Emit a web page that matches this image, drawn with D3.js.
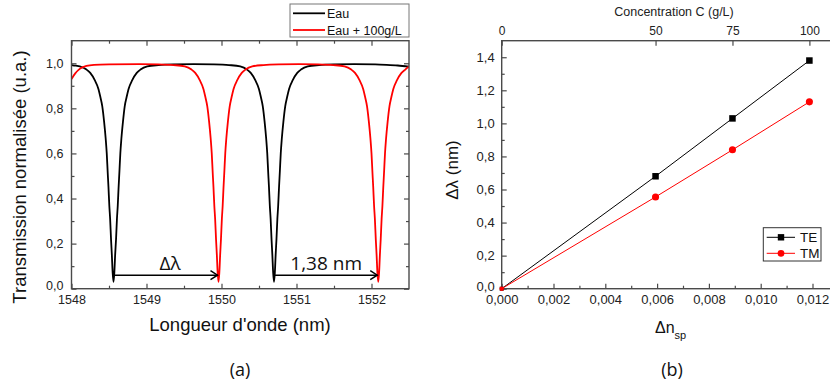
<!DOCTYPE html>
<html><head><meta charset="utf-8">
<script src="https://cdn.jsdelivr.net/npm/d3@7"></script>
<style>html,body{margin:0;padding:0;background:#fff}svg{display:block}</style>
</head><body><svg id="c" width="830" height="388"></svg>
<script>
// ---------- DATA ----------
// Panel (a): transmission spectra [wavelength nm, transmission]
const eau = [
[1548.00,0.992],[1548.06,0.989],[1548.11,0.986],[1548.20,0.972],[1548.25,0.957],[1548.31,0.925],
[1548.36,0.885],[1548.385,0.85],[1548.41,0.81],[1548.435,0.74],[1548.456,0.665],[1548.47,0.60],
[1548.482,0.52],[1548.493,0.45],[1548.504,0.37],[1548.515,0.31],[1548.527,0.22],[1548.538,0.15],
[1548.549,0.07],[1548.56,0.03],[1548.571,0.07],[1548.582,0.15],[1548.594,0.22],[1548.606,0.31],
[1548.617,0.37],[1548.628,0.45],[1548.639,0.52],[1548.651,0.60],[1548.665,0.665],[1548.686,0.74],
[1548.71,0.81],[1548.735,0.85],[1548.76,0.885],[1548.81,0.925],[1548.87,0.957],[1548.92,0.972],
[1549.01,0.986],[1549.16,0.992],[1549.36,0.995],[1549.63,0.996],[1549.90,0.995],[1550.10,0.992],
[1550.25,0.986],[1550.34,0.972],[1550.39,0.957],[1550.45,0.925],[1550.50,0.885],[1550.525,0.85],
[1550.55,0.81],[1550.575,0.74],[1550.596,0.665],[1550.61,0.60],[1550.622,0.52],[1550.633,0.45],
[1550.644,0.37],[1550.655,0.31],[1550.667,0.22],[1550.678,0.15],[1550.689,0.07],[1550.70,0.03],
[1550.711,0.07],[1550.722,0.15],[1550.733,0.22],[1550.745,0.31],[1550.756,0.37],[1550.767,0.45],
[1550.778,0.52],[1550.79,0.60],[1550.804,0.665],[1550.825,0.74],[1550.85,0.81],[1550.875,0.85],
[1550.90,0.885],[1550.95,0.925],[1551.01,0.957],[1551.06,0.972],[1551.15,0.986],[1551.30,0.992],
[1551.50,0.995],[1551.77,0.996],[1552.05,0.995],[1552.20,0.993],[1552.35,0.990],[1552.50,0.985]
];
const eau100 = [
[1548.00,0.93],[1548.05,0.955],[1548.11,0.975],[1548.20,0.988],[1548.30,0.993],[1548.50,0.995],
[1548.90,0.996],[1549.16,0.995],[1549.36,0.992],[1549.51,0.986],[1549.60,0.972],[1549.65,0.957],
[1549.71,0.925],[1549.76,0.885],[1549.785,0.85],[1549.81,0.81],[1549.835,0.74],[1549.856,0.665],
[1549.87,0.60],[1549.882,0.52],[1549.893,0.45],[1549.904,0.37],[1549.915,0.31],[1549.927,0.22],
[1549.938,0.15],[1549.949,0.07],[1549.96,0.03],[1549.971,0.07],[1549.982,0.15],[1549.993,0.22],
[1550.005,0.31],[1550.016,0.37],[1550.027,0.45],[1550.038,0.52],[1550.05,0.60],[1550.064,0.665],
[1550.085,0.74],[1550.11,0.81],[1550.135,0.85],[1550.16,0.885],[1550.21,0.925],[1550.27,0.957],
[1550.32,0.972],[1550.41,0.986],[1550.56,0.992],[1550.76,0.995],[1551.03,0.996],[1551.29,0.995],
[1551.49,0.992],[1551.64,0.986],[1551.73,0.972],[1551.78,0.957],[1551.84,0.925],[1551.89,0.885],
[1551.915,0.85],[1551.94,0.81],[1551.965,0.74],[1551.986,0.665],[1552.00,0.60],[1552.012,0.52],
[1552.023,0.45],[1552.034,0.37],[1552.045,0.31],[1552.057,0.22],[1552.068,0.15],[1552.079,0.07],
[1552.09,0.03],[1552.101,0.07],[1552.112,0.15],[1552.123,0.22],[1552.135,0.31],[1552.146,0.37],
[1552.157,0.45],[1552.168,0.52],[1552.18,0.60],[1552.194,0.665],[1552.215,0.74],[1552.24,0.81],
[1552.265,0.85],[1552.29,0.885],[1552.34,0.925],[1552.40,0.957],[1552.45,0.972],[1552.50,0.986]
];
const seriesA = ["Eau","Eau + 100g/L"];
const shiftArrows = [[1548.56,1549.96],[1550.70,1552.09]];  // dip of Eau -> dip of Eau+100g/L
const shiftLabels = ["Δλ","1,38 nm"];
const xTicksA = [1548,1549,1550,1551,1552];
const yTicksA = [0,0.2,0.4,0.6,0.8,1.0];

// Panel (b)
const concentration = [0,50,75,100];          // g/L (top axis)
const dn = [0,0.00594,0.00891,0.01188];       // Δn_sp
const dlTE = [0,0.68,1.03,1.38];              // Δλ (nm)
const dlTM = [0,0.555,0.84,1.13];
const seriesB = ["TE","TM"];
const xTicksB = [0,0.002,0.004,0.006,0.008,0.010,0.012];
const yTicksB = [0,0.2,0.4,0.6,0.8,1.0,1.2,1.4];

// ---------- DRAW ----------
const svg = d3.select("#c");
const FONT = "'Liberation Sans', Arial, sans-serif";
const FONT2 = "'Open Sans', 'Noto Sans', sans-serif";
const AX = "#4a4a4a";
const comma = f => v => d3.format(f)(v).replace(".", ",");

function styleAxis(g, size){
  g.select(".domain").remove();
  g.selectAll(".tick line").attr("stroke", AX).attr("stroke-width", 1.2);
  g.selectAll("text").attr("font-family", FONT).attr("font-size", size).attr("fill", "#222");
}
// lift the label at value 0 on a vertical axis so it clears the horizontal axis labels
function liftZero(g){
  g.selectAll(".tick").filter(d=>d===0).select("text").attr("dy","0.1em");
}

// ===== Panel (a) =====
const xA = d3.scaleLinear().domain([1548,1552.5]).range([71.5,409]);
const yA = d3.scaleLinear().domain([0,1.1]).range([288.7,40.7]);
const gA = svg.append("g");
gA.append("clipPath").attr("id","clipA").append("rect")
  .attr("x",xA.range()[0]).attr("y",yA.range()[1])
  .attr("width",xA.range()[1]-xA.range()[0]).attr("height",yA.range()[0]-yA.range()[1]);

const minorXA = d3.range(1548.5,1552.5,1);
const minorYA = d3.range(0.1,1.1,0.2);
// bottom
gA.append("g").attr("transform",`translate(0,${yA(0)})`)
  .call(d3.axisBottom(xA).tickValues(xTicksA).tickSizeInner(-5).tickSizeOuter(0).tickPadding(6).tickFormat(d3.format("d")))
  .call(g=>styleAxis(g,12.5));
gA.append("g").attr("transform",`translate(0,${yA(0)})`)
  .call(d3.axisBottom(xA).tickValues(minorXA).tickSizeInner(-3).tickSizeOuter(0).tickFormat(""))
  .call(g=>styleAxis(g,12));
// top
gA.append("g").attr("transform",`translate(0,${yA(1.1)})`)
  .call(d3.axisTop(xA).tickValues(xTicksA).tickSizeInner(-5).tickSizeOuter(0).tickFormat(""))
  .call(g=>styleAxis(g,12));
gA.append("g").attr("transform",`translate(0,${yA(1.1)})`)
  .call(d3.axisTop(xA).tickValues(minorXA).tickSizeInner(-3).tickSizeOuter(0).tickFormat(""))
  .call(g=>styleAxis(g,12));
// left
gA.append("g").attr("transform",`translate(${xA(1548)},0)`)
  .call(d3.axisLeft(yA).tickValues(yTicksA).tickSizeInner(-5).tickSizeOuter(0).tickPadding(8).tickFormat(comma(".1f")))
  .call(g=>styleAxis(g,12.5)).call(liftZero);
gA.append("g").attr("transform",`translate(${xA(1548)},0)`)
  .call(d3.axisLeft(yA).tickValues(minorYA).tickSizeInner(-3).tickSizeOuter(0).tickFormat(""))
  .call(g=>styleAxis(g,12));
// right
gA.append("g").attr("transform",`translate(${xA(1552.5)},0)`)
  .call(d3.axisRight(yA).tickValues(yTicksA).tickSizeInner(-5).tickSizeOuter(0).tickFormat(""))
  .call(g=>styleAxis(g,12));
gA.append("g").attr("transform",`translate(${xA(1552.5)},0)`)
  .call(d3.axisRight(yA).tickValues(minorYA).tickSizeInner(-3).tickSizeOuter(0).tickFormat(""))
  .call(g=>styleAxis(g,12));

const lineA = d3.line().x(d=>xA(d[0])).y(d=>yA(d[1])).curve(d3.curveMonotoneX);
const colorsA = ["#000000","#ff0000"];
[eau, eau100].forEach((s,i)=>{
  gA.append("path").datum(s).attr("clip-path","url(#clipA)")
    .attr("d",lineA).attr("fill","none").attr("stroke",colorsA[i]).attr("stroke-width",1.8)
    .attr("stroke-linejoin","round");
});
// frame
gA.append("rect").attr("x",xA(1548)).attr("y",yA(1.1))
  .attr("width",xA(1552.5)-xA(1548)).attr("height",yA(0)-yA(1.1))
  .attr("fill","none").attr("stroke",AX).attr("stroke-width",1.4);

// arrows
const arrowY = 0.06, labelY = 0.085;
shiftArrows.forEach((p,i)=>{
  const x1 = xA(p[0]), x2 = xA(p[1]), y = yA(arrowY);
  gA.append("line").attr("x1",x1).attr("x2",x2-1).attr("y1",y).attr("y2",y)
    .attr("stroke","#000").attr("stroke-width",1.5);
  gA.append("path").attr("d",`M${x2-8},${y-4.5}L${x2-1},${y}L${x2-8},${y+4.5}`)
    .attr("fill","none").attr("stroke","#000").attr("stroke-width",1.5);
  gA.append("text").attr("x",(x1+x2)/2+ (i===0?4:0)).attr("y",yA(labelY)).attr("text-anchor","middle")
    .attr("font-family",FONT2).attr("font-size",19).attr("fill","#111").text(shiftLabels[i]);
});

// legend (a)
const legA = gA.append("g");
legA.append("rect").attr("x",290).attr("y",4).attr("width",119).attr("height",33)
  .attr("fill","#fff").attr("stroke","#777").attr("stroke-width",1);
seriesA.forEach((n,i)=>{
  const y = 13.3 + i*16.7;
  legA.append("line").attr("x1",293).attr("x2",325).attr("y1",y).attr("y2",y)
    .attr("stroke",colorsA[i]).attr("stroke-width",1.8);
  legA.append("text").attr("x",327).attr("y",y+4.5).attr("font-family",FONT).attr("font-size",12.5)
    .attr("fill","#111").text(n);
});

// titles (a)
svg.append("text").attr("transform","translate(26,177) rotate(-90)").attr("text-anchor","middle")
  .attr("font-family",FONT).attr("font-size",18.5).attr("fill","#111").text("Transmission normalisée (u.a.)");
svg.append("text").attr("x",240).attr("y",331).attr("text-anchor","middle")
  .attr("font-family",FONT).attr("font-size",18.5).attr("fill","#111").text("Longueur d'onde (nm)");
svg.append("text").attr("x",240).attr("y",376).attr("text-anchor","middle")
  .attr("font-family",FONT2).attr("font-size",18).attr("fill","#111").text("(a)");

// ===== Panel (b) =====
const xB = d3.scaleLinear().domain([0,0.013]).range([501.7,501.7+6.5*51.8]);
const xTop = d3.scaleLinear().domain([0,0.013*concentration[3]/dn[3]]).range(xB.range());
const yB = d3.scaleLinear().domain([0,1.5]).range([288.7,40.7]);
const gB = svg.append("g");
gB.append("clipPath").attr("id","clipB").append("rect")
  .attr("x",xB.range()[0]-6).attr("y",yB.range()[1]).attr("width",400).attr("height",yB.range()[0]-yB.range()[1]+6);

gB.append("g").attr("transform",`translate(0,${yB(0)})`)
  .call(d3.axisBottom(xB).tickValues(xTicksB).tickSizeInner(-5).tickSizeOuter(0).tickPadding(6).tickFormat(comma(".3f")))
  .call(g=>styleAxis(g,13));
gB.append("g").attr("transform",`translate(0,${yB(0)})`)
  .call(d3.axisBottom(xB).tickValues(d3.range(0.001,0.013,0.002)).tickSizeInner(-3).tickSizeOuter(0).tickFormat(""))
  .call(g=>styleAxis(g,12));
gB.append("g").attr("transform",`translate(${xB(0)},0)`)
  .call(d3.axisLeft(yB).tickValues(yTicksB).tickSizeInner(-5).tickSizeOuter(0).tickPadding(7).tickFormat(comma(".1f")))
  .call(g=>styleAxis(g,13)).call(liftZero);
gB.append("g").attr("transform",`translate(${xB(0)},0)`)
  .call(d3.axisLeft(yB).tickValues(d3.range(0.1,1.5,0.2)).tickSizeInner(-3).tickSizeOuter(0).tickFormat(""))
  .call(g=>styleAxis(g,12));
gB.append("g").attr("transform",`translate(0,${yB(1.5)})`)
  .call(d3.axisTop(xTop).tickValues(concentration).tickSizeInner(-5).tickSizeOuter(0).tickPadding(6).tickFormat(d3.format("d")))
  .call(g=>styleAxis(g,12));
// frame (right side lies beyond the picture)
gB.append("rect").attr("x",xB(0)).attr("y",yB(1.5))
  .attr("width",xB(0.013)-xB(0)).attr("height",yB(0)-yB(1.5))
  .attr("fill","none").attr("stroke",AX).attr("stroke-width",1.4);

const colorsB = ["#000000","#ff0000"];
[dlTE, dlTM].forEach((s,i)=>{
  const pts = dn.map((d,j)=>[d,s[j]]);
  gB.append("path").datum(pts).attr("d",d3.line().x(d=>xB(d[0])).y(d=>yB(d[1])))
    .attr("fill","none").attr("stroke",colorsB[i]).attr("stroke-width",1);
  const mk = gB.append("g").attr("clip-path","url(#clipB)");
  pts.forEach((p,j)=>{
    const sz = j===0 ? 4 : 6.5;
    if(i===0) mk.append("rect").attr("x",xB(p[0])-sz/2).attr("y",yB(p[1])-sz/2).attr("width",sz).attr("height",sz).attr("fill",colorsB[i]);
    else mk.append("circle").attr("cx",xB(p[0])).attr("cy",yB(p[1])).attr("r",sz/2+0.3).attr("fill",colorsB[i]);
  });
});

// legend (b)
const legB = gB.append("g");
legB.append("rect").attr("x",763.3).attr("y",227.7).attr("width",57.7).attr("height",33.3)
  .attr("fill","#fff").attr("stroke","#333").attr("stroke-width",1);
seriesB.forEach((n,i)=>{
  const y = 237.3 + i*16;
  legB.append("line").attr("x1",766.7).attr("x2",795).attr("y1",y).attr("y2",y)
    .attr("stroke",colorsB[i]).attr("stroke-width",1);
  if(i===0) legB.append("rect").attr("x",781-3.2).attr("y",y-3.2).attr("width",6.4).attr("height",6.4).attr("fill",colorsB[i]);
  else legB.append("circle").attr("cx",781).attr("cy",y).attr("r",3.4).attr("fill",colorsB[i]);
  legB.append("text").attr("x",800).attr("y",y+4.8).attr("font-family",FONT).attr("font-size",13.5)
    .attr("fill","#111").text(n);
});

// titles (b)
svg.append("text").attr("x",674).attr("y",16).attr("text-anchor","middle")
  .attr("font-family",FONT).attr("font-size",12.5).attr("fill","#222").text("Concentration C (g/L)");
svg.append("text").attr("transform","translate(458,170) rotate(-90)").attr("text-anchor","middle")
  .attr("font-family",FONT).attr("font-size",17).attr("fill","#111").text("Δλ (nm)");
const tB = svg.append("text").attr("x",655).attr("y",333.3).attr("font-family",FONT).attr("font-size",16).attr("fill","#111");
tB.append("tspan").text("Δn");
tB.append("tspan").attr("dy",6).attr("font-size",11).text("sp");
svg.append("text").attr("x",672).attr("y",376).attr("text-anchor","middle")
  .attr("font-family",FONT2).attr("font-size",18).attr("fill","#111").text("(b)");
</script></body></html>
